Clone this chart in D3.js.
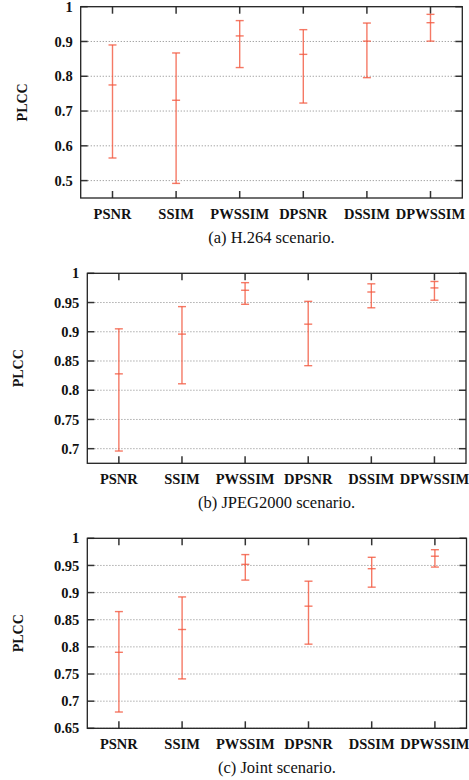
<!DOCTYPE html>
<html>
<head>
<meta charset="utf-8">
<script src="https://cdn.jsdelivr.net/npm/d3@7"></script>
<style>
  body { margin: 0; background: #fff; }
  svg { display: block; }
  .tick-label { font-family: "Liberation Serif", "Times New Roman", serif; font-weight: bold; font-size: 14.5px; fill: #111; }
  .caption { font-family: "Liberation Serif", "Times New Roman", serif; font-size: 16.5px; fill: #111; }
</style>
</head>
<body>
<div id="chart"></div>
<script>
var categories = ['PSNR', 'SSIM', 'PWSSIM', 'DPSNR', 'DSSIM', 'DPWSSIM'];

var h264Mean = [0.775, 0.731, 0.916, 0.863, 0.901, 0.954];
var h264Low  = [0.565, 0.492, 0.825, 0.723, 0.796, 0.901];
var h264High = [0.890, 0.867, 0.960, 0.934, 0.953, 0.978];
var h264Ticks = [0.5, 0.6, 0.7, 0.8, 0.9, 1];

var jpegMean = [0.828, 0.896, 0.971, 0.913, 0.968, 0.975];
var jpegLow  = [0.696, 0.811, 0.947, 0.842, 0.941, 0.954];
var jpegHigh = [0.905, 0.943, 0.984, 0.952, 0.982, 0.986];
var jpegTicks = [0.7, 0.75, 0.8, 0.85, 0.9, 0.95, 1];

var jointMean = [0.790, 0.832, 0.952, 0.875, 0.944, 0.967];
var jointLow  = [0.680, 0.741, 0.923, 0.805, 0.910, 0.947];
var jointHigh = [0.865, 0.892, 0.970, 0.921, 0.965, 0.979];
var jointTicks = [0.65, 0.7, 0.75, 0.8, 0.85, 0.9, 0.95, 1];

var W = 469, H = 780;
var svg = d3.select('#chart').append('svg').attr('width', W).attr('height', H);

var panels = [
  { mean: h264Mean, low: h264Low, high: h264High, ticks: h264Ticks, domain: [0.45, 1],
    caption: '(a) H.264 scenario.', left: 80.7, right: 462.3, top: 6.7, bottom: 198, labelX: 22 },
  { mean: jpegMean, low: jpegLow, high: jpegHigh, ticks: jpegTicks, domain: [0.675, 1],
    caption: '(b) JPEG2000 scenario.', left: 87.3, right: 466, top: 273.3, bottom: 463.3, labelX: 18 },
  { mean: jointMean, low: jointLow, high: jointHigh, ticks: jointTicks, domain: [0.65, 1],
    caption: '(c) Joint scenario.', left: 87.3, right: 466.5, top: 538.3, bottom: 728.3, labelX: 18 }
];

var barColor = '#f2583f';
var tickLen = 7;

panels.forEach(p => {
  var g = svg.append('g');
  var x = d3.scaleLinear().domain([0.5, categories.length + 0.5]).range([p.left, p.right]);
  var y = d3.scaleLinear().domain(p.domain).range([p.bottom, p.top]);
  var fmt = d => String(+d.toFixed(2));

  // dotted grid
  g.selectAll('.grid')
    .data(p.ticks.filter(t => t < 1))
    .enter().append('line')
      .attr('x1', p.left + tickLen).attr('x2', p.right - tickLen)
      .attr('y1', d => y(d)).attr('y2', d => y(d))
      .attr('stroke', '#9a9a9a')
      .attr('stroke-width', 1)
      .attr('stroke-dasharray', '1.2,1.8');

  // y ticks, both sides, inward
  g.selectAll('.ytl')
    .data(p.ticks)
    .enter().append('line')
      .attr('x1', p.left).attr('x2', p.left + tickLen)
      .attr('y1', d => y(d)).attr('y2', d => y(d))
      .attr('stroke', '#333').attr('stroke-width', 1.5);
  g.selectAll('.ytr')
    .data(p.ticks)
    .enter().append('line')
      .attr('x1', p.right).attr('x2', p.right - tickLen)
      .attr('y1', d => y(d)).attr('y2', d => y(d))
      .attr('stroke', '#333').attr('stroke-width', 1.5);

  g.selectAll('.ylabel')
    .data(p.ticks)
    .enter().append('text')
      .attr('class', 'tick-label')
      .attr('x', p.left - 8)
      .attr('y', d => y(d))
      .attr('dy', '0.35em')
      .attr('text-anchor', 'end')
      .text(fmt);

  // x ticks, top and bottom, inward
  var idx = d3.range(categories.length);
  g.selectAll('.xtb')
    .data(idx)
    .enter().append('line')
      .attr('x1', i => x(i + 1)).attr('x2', i => x(i + 1))
      .attr('y1', p.bottom).attr('y2', p.bottom - tickLen)
      .attr('stroke', '#333').attr('stroke-width', 1.5);
  g.selectAll('.xtt')
    .data(idx)
    .enter().append('line')
      .attr('x1', i => x(i + 1)).attr('x2', i => x(i + 1))
      .attr('y1', p.top).attr('y2', p.top + tickLen)
      .attr('stroke', '#333').attr('stroke-width', 1.5);

  g.selectAll('.xlabel')
    .data(categories)
    .enter().append('text')
      .attr('class', 'tick-label')
      .attr('x', (d, i) => x(i + 1))
      .attr('y', p.bottom + 21)
      .attr('text-anchor', 'middle')
      .text(d => d);

  // frame
  g.append('rect')
    .attr('x', p.left).attr('y', p.top)
    .attr('width', p.right - p.left).attr('height', p.bottom - p.top)
    .attr('fill', 'none').attr('stroke', '#222').attr('stroke-width', 1.3);

  // error bars
  var bars = g.selectAll('.err')
    .data(idx)
    .enter().append('g')
      .attr('stroke', barColor)
      .attr('stroke-opacity', 0.8)
      .attr('stroke-width', 1.4);
  bars.append('line')
    .attr('x1', i => x(i + 1)).attr('x2', i => x(i + 1))
    .attr('y1', i => y(p.low[i])).attr('y2', i => y(p.high[i]));
  [p.low, p.mean, p.high].forEach(arr => {
    bars.append('line')
      .attr('x1', i => x(i + 1) - 4).attr('x2', i => x(i + 1) + 4)
      .attr('y1', i => y(arr[i])).attr('y2', i => y(arr[i]));
  });

  // axis title
  var midY = (p.top + p.bottom) / 2;
  g.append('text')
    .attr('class', 'tick-label')
    .attr('transform', 'translate(' + (p.labelX + 5) + ',' + midY + ') rotate(-90)')
    .attr('text-anchor', 'middle')
    .style('font-size', '14px')
    .text('PLCC');

  g.append('text')
    .attr('class', 'caption')
    .attr('x', (p.left + p.right) / 2)
    .attr('y', p.bottom + 45)
    .attr('text-anchor', 'middle')
    .text(p.caption);
});
</script>
</body>
</html>
